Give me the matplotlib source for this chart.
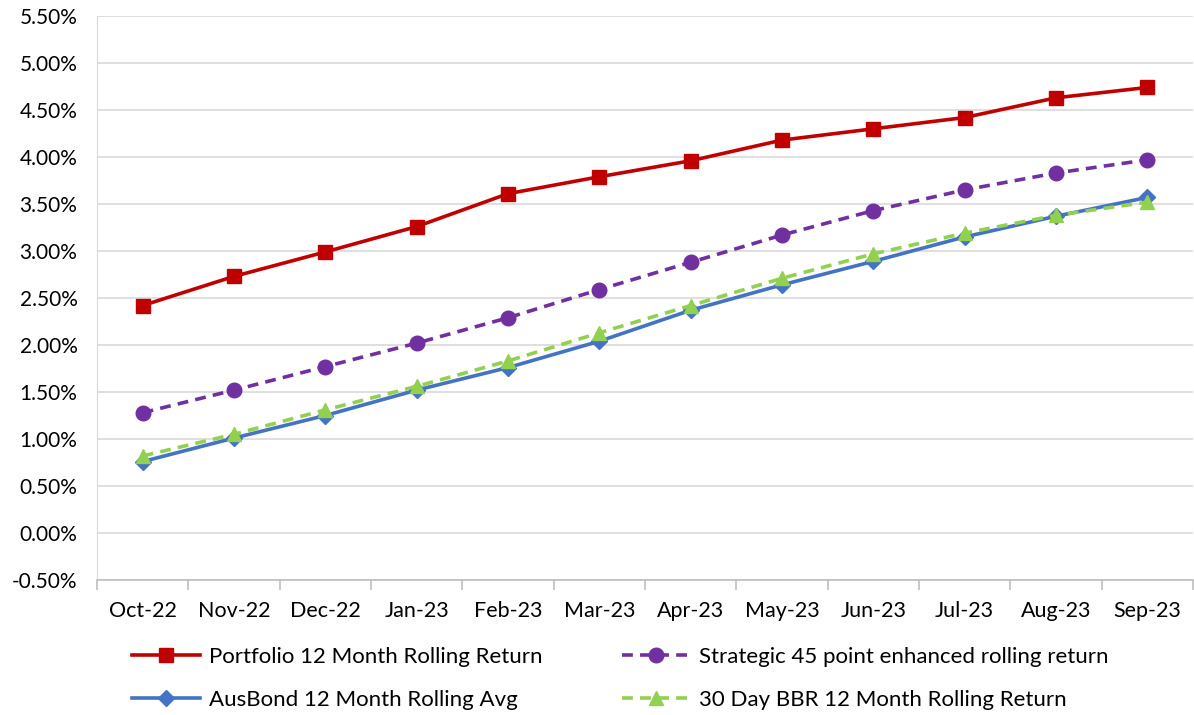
import matplotlib

matplotlib.use("Agg")
import matplotlib.pyplot as plt
from matplotlib.ticker import FuncFormatter, FixedLocator
import numpy as np

# --------------------------------------------------------------------------- #
# Data (in %)
# --------------------------------------------------------------------------- #
months = ["Oct-22", "Nov-22", "Dec-22", "Jan-23", "Feb-23", "Mar-23",
          "Apr-23", "May-23", "Jun-23", "Jul-23", "Aug-23", "Sep-23"]

portfolio = [2.42, 2.73, 2.99, 3.26, 3.61, 3.79, 3.96, 4.18, 4.30, 4.42, 4.63, 4.74]
strategic = [1.28, 1.52, 1.77, 2.02, 2.29, 2.59, 2.88, 3.17, 3.43, 3.65, 3.83, 3.97]
ausbond = [0.76, 1.01, 1.25, 1.52, 1.76, 2.04, 2.37, 2.64, 2.89, 3.15, 3.37, 3.57]
bbr = [0.82, 1.05, 1.31, 1.56, 1.83, 2.13, 2.42, 2.71, 2.97, 3.19, 3.38, 3.52]

labels = ["Portfolio 12 Month Rolling Return",
          "Strategic 45 point enhanced rolling return",
          "AusBond 12 Month Rolling Avg",
          "30 Day BBR 12 Month Rolling Return"]

plt.rcParams["font.family"] = ["Lato", "DejaVu Sans"]

fig = plt.figure(figsize=(11.94, 7.15), dpi=100)
ax = fig.add_axes([0.0812, 0.1888, 0.918, 0.7888])

x = np.arange(len(months))
l1, = ax.plot(x, portfolio, color="#C00000", lw=2.6, marker="s", ms=10)
l2, = ax.plot(x, strategic, color="#7030A0", lw=2.6, ls=(0, (3, 2)), marker="o", ms=10.5)
l3, = ax.plot(x, ausbond, color="#4472C4", lw=2.6, marker="D", ms=8)
l4, = ax.plot(x, bbr, color="#92D050", lw=2.6, ls=(0, (3, 2)), marker="^", ms=10.5)

ax.set_xlim(-0.5, len(months) - 0.5)
ax.set_ylim(-0.5, 5.5)
ax.set_yticks(np.arange(-0.5, 5.51, 0.5))
ax.yaxis.set_major_formatter(FuncFormatter(lambda v, _: f"{v:.2f}%"))
ax.set_xticks(x)
ax.set_xticklabels(months)
ax.xaxis.set_minor_locator(FixedLocator(np.arange(-0.5, len(months), 1.0)))

ax.grid(axis="y", color="#d9d9d9", lw=1.2)
ax.set_axisbelow(True)
for s in ["top", "right"]:
    ax.spines[s].set_visible(False)
ax.spines["left"].set_color("#d9d9d9")
ax.spines["bottom"].set_color("#bfbfbf")
ax.spines["bottom"].set_linewidth(1.2)

ax.tick_params(axis="y", length=0, labelsize=15, pad=14, colors="black")
ax.tick_params(axis="x", which="major", length=0, labelsize=15.5, pad=15)
ax.tick_params(axis="x", which="minor", length=7, color="#bfbfbf", width=1.2)

# row-major legend order (legend fills column by column)
fig.legend([l1, l3, l2, l4], [labels[0], labels[2], labels[1], labels[3]],
           loc="lower left", ncol=2,
           bbox_to_anchor=(0.094, -0.021), frameon=False, fontsize=16,
           handlelength=3.05, handletextpad=0.4, columnspacing=3.6,
           labelspacing=1.05)

fig.savefig("out.png", dpi=100)
